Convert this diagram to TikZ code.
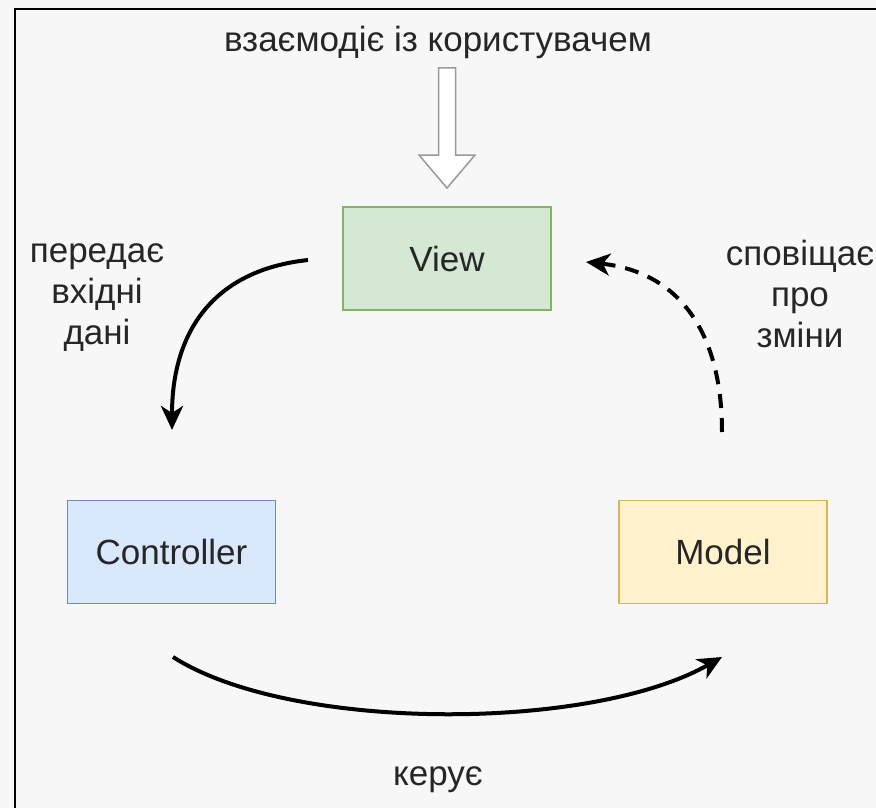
\documentclass[tikz,border=0pt]{standalone}
\usepackage{fontspec}
\setmainfont{Liberation Sans}
\usetikzlibrary{arrows.meta}

\definecolor{bgfill}{HTML}{F7F7F7}
\definecolor{viewfill}{HTML}{D5E8D4}
\definecolor{viewline}{HTML}{82B366}
\definecolor{ctrlfill}{HTML}{DAE8FC}
\definecolor{ctrlline}{HTML}{6C8EBF}
\definecolor{modelfill}{HTML}{FFF2CC}
\definecolor{modelline}{HTML}{D6B656}

\begin{document}
\begin{tikzpicture}[x=1pt, y=-1pt,
    box/.style = {draw, line width=1.5pt, minimum width=208pt, minimum height=103pt,
                  inner sep=0pt, text=black!85, font=\fontsize{35}{42}\selectfont},
    lbl/.style = {align=center, text=black!85, font=\fontsize{35}{41}\selectfont},
    flow/.style = {line width=4pt, -{Stealth[length=24pt, width=22pt, inset=7pt]}},
    hollow/.style = {draw=gray!80, fill=white, line width=1.5pt, line join=miter}]
                \useasboundingbox (0,0) rectangle (876,808);
                \fill[bgfill] (0,0) rectangle (876,808);
                \draw[line width=2.5pt] (15,808) -- (15,9) -- (876,9);

                \node[box, fill=viewfill, draw=viewline] (view) at (447,258.5) {View};
                \node[box, fill=ctrlfill, draw=ctrlline] (ctrl) at (171.5,552) {Controller};
                \node[box, fill=modelfill, draw=modelline] (model) at (723,552) {Model};

                \node[lbl] (user) at (438,42) {взаємодіє із користувачем};
                \node[lbl] (pass) at (97,298) {передає\\вхідні\\дані};
                \node[lbl] (notify) at (800,294) {сповіщає\\про\\зміни};
                \node[lbl] (steer) at (438,780) {керує};

                % user input into the view
                \coordinate (in top) at (447,68);
                \coordinate (in tip) at (447,188);
                \draw[hollow] ([xshift=-8.5pt]in top) -- ([xshift=8.5pt]in top)
                    -- ([xshift=8.5pt,yshift=33pt]in tip) -- ([xshift=28pt,yshift=33pt]in tip)
                    -- (in tip) -- ([xshift=-28pt,yshift=33pt]in tip)
                    -- ([xshift=-8.5pt,yshift=33pt]in tip) -- cycle;

                % view -> controller
                \coordinate (pass from) at (308,260);
                \coordinate (pass to) at (172,430);
                \draw[flow] (pass from) .. controls +(-93,10) and +(0,-100) .. (pass to);

                % model -> view, dashed
                \coordinate (notify from) at (722,432);
                \coordinate (notify to) at (586,262);
                \draw[flow, dash pattern=on 14pt off 10pt] (notify from)
                    .. controls +(0,-100) and +(93,10) .. (notify to);

                % controller -> model
                \coordinate (steer from) at (173,657);
                \coordinate (steer to) at (722,657);
                \draw[flow] (steer from) .. controls +(117,75) and +(-132,75) .. (steer to);
            \end{tikzpicture}
\end{document}
